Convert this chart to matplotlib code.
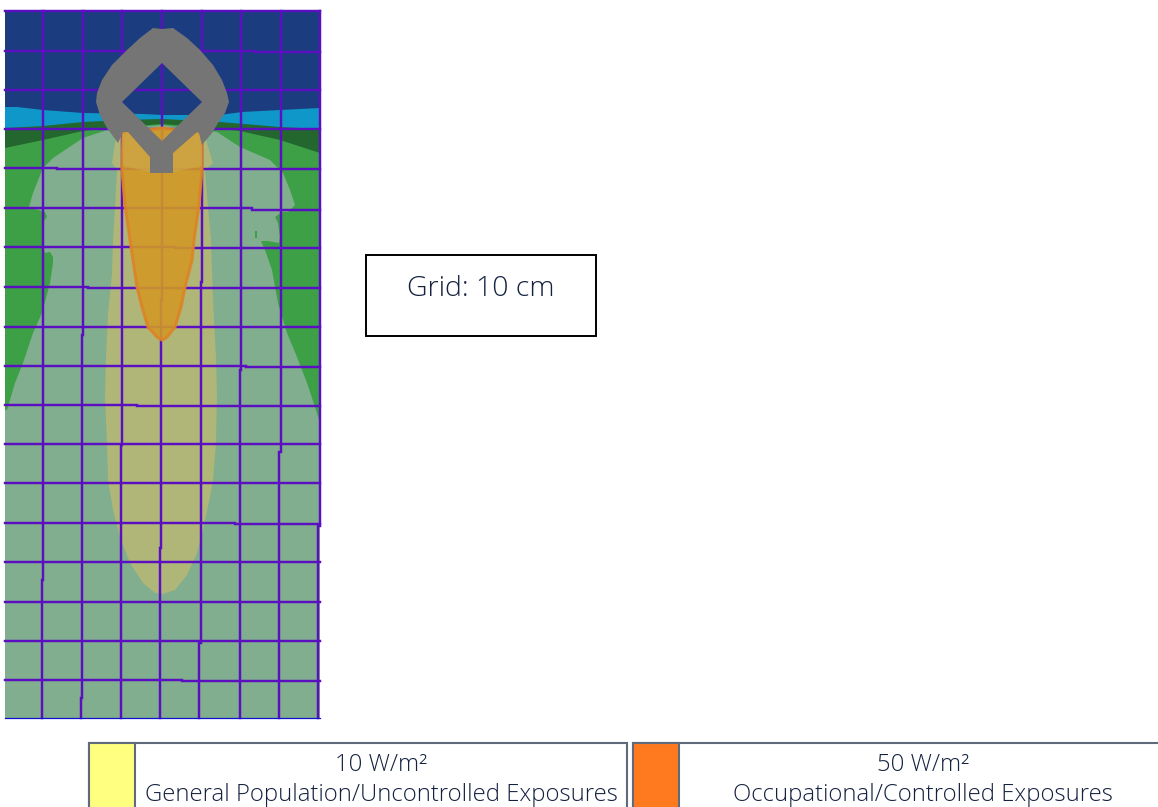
import matplotlib
matplotlib.use('Agg')
import matplotlib.pyplot as plt
from matplotlib.patches import Polygon, PathPatch, Rectangle
from matplotlib.path import Path

plt.rcParams['font.family'] = ['Open Sans', 'Noto Sans', 'DejaVu Sans']

# all values, in image pixels
panel_x = [5, 320]
panel_y = [11, 718]

cyan_top = [(5, 107), (17, 107), (43, 110), (83, 113), (143, 114), (162, 115), (220, 115), (242, 112), (280, 110), (320, 108)]
cyan_bottom = [(5, 128), (43, 126), (83, 122), (123, 120), (162, 119), (220, 122), (280, 127), (320, 129)]
dark_bottom = [(5, 148), (43, 140), (83, 131), (110, 128), (162, 124), (213, 128), (240, 131), (280, 140), (320, 153)]

pale_edge = [(5, 410), (7, 410), (15, 383), (23, 363), (33, 333), (42, 313), (50, 283), (53, 263), (53, 257), (50, 252),
             (45, 253), (42, 245), (43, 222), (47, 217), (45, 212), (29, 207), (33, 193), (43, 168), (53, 158), (65, 150),
             (83, 138), (107, 130), (162, 125), (217, 132), (240, 147), (270, 160), (283, 173), (290, 190), (295, 205),
             (288, 212), (282, 212), (275, 217), (278, 223), (280, 237), (279, 243), (268, 241), (261, 241), (265, 250),
             (272, 270), (278, 303), (287, 333), (297, 357), (307, 383), (315, 407), (319, 420), (320, 424)]
green_speck = [(255, 231), (257, 231), (257, 238), (255, 238)]

yellow_edge = [(118, 130), (115, 143), (112, 163), (117, 170), (115, 207), (113, 240), (112, 273), (108, 313), (106, 357),
               (105, 397), (107, 443), (108, 480), (113, 510), (120, 537), (130, 563), (143, 583), (155, 593), (163, 594),
               (175, 590), (187, 575), (197, 553), (203, 530), (210, 497), (213, 480), (216, 443), (217, 397), (216, 357),
               (213, 300), (211, 240), (208, 207), (205, 170), (213, 163), (207, 143), (205, 130)]

orange_edge = [(123, 133), (122, 170), (125, 205), (130, 240), (133, 260), (137, 287), (142, 307), (148, 327), (157, 337),
               (162, 340), (167, 337), (175, 327), (181, 307), (185, 287), (192, 260), (194, 240), (199, 205), (202, 170),
               (202, 133), (162, 128)]
orange_lobe_left = [(122, 134), (128, 132), (150, 157), (150, 172), (123, 166)]
orange_lobe_right = [(202, 134), (197, 132), (173, 153), (173, 172), (202, 166)]
orange_spots = [[(119, 129), (122, 125), (126, 129), (122, 134)], [(197, 130), (201, 125), (205, 130), (201, 135)]]

antenna_outer = [(153, 28), (162, 29), (173, 28), (187, 38), (200, 50), (213, 65), (222, 80), (227, 93), (229, 102), (225, 113),
                 (218, 123), (212, 133), (202, 145), (199, 133), (197, 132), (173, 153), (173, 173), (150, 173), (150, 157),
                 (128, 132), (123, 132), (118, 143), (107, 128), (100, 115), (96, 102), (97, 93), (102, 80), (112, 65),
                 (127, 50), (140, 38)]
antenna_hole = [(162, 63), (202, 102), (162, 141), (122, 102)]

# each grid line: (start of the run, position of the run)
grid_v = [[(11, 43), (580, 42)],
          [(11, 83), (335, 82), (698, 81)],
          [(11, 122), (445, 121)],
          [(11, 162), (300, 161), (548, 160)],
          [(11, 202), (282, 200.5), (643, 199)],
          [(11, 241), (370, 239.5)],
          [(11, 281), (452, 279)],
          [(11, 320), (526, 318)]]
grid_h = [[(5, 11)],
          [(5, 51), (255, 52)],
          [(5, 90)],
          [(5, 129)],
          [(5, 168), (57, 169)],
          [(5, 208), (252, 209.5)],
          [(5, 247), (175, 248)],
          [(5, 286.5), (88, 288)],
          [(5, 327)],
          [(5, 365.5), (246, 367)],
          [(5, 404.5), (137, 406)],
          [(5, 444)],
          [(5, 483)],
          [(5, 522.5), (235, 524)],
          [(5, 562)],
          [(5, 602)],
          [(5, 641)],
          [(5, 680), (182, 681)]]

legend_labels = ['10 W/m²\nGeneral Population/Uncontrolled Exposures', '50 W/m²\nOccupational/Controlled Exposures']
legend_colors = ['#FFFF80', '#FF7A1F']
legend_left = [89, 633]
legend_right = [627, 1167]

fig = plt.figure(figsize=(11.58, 8.07), dpi=100)
ax = fig.add_axes([0, 0, 1, 1])
ax.set_xlim(0, 1158)
ax.set_ylim(807, 0)
ax.axis('off')

# field layers, painted from the back
x0, x1 = panel_x
y0, y1 = panel_y
ax.add_patch(Rectangle((x0, y0), x1 - x0, y1 - y0, fc='#1B3D80', ec='none', zorder=1))
ax.add_patch(Polygon(cyan_top + [(x1, y1), (x0, y1)], fc='#0F97C9', ec='none', zorder=2))
ax.add_patch(Polygon(cyan_bottom + [(x1, y1), (x0, y1)], fc='#23672F', ec='none', zorder=3))
ax.add_patch(Polygon(dark_bottom + [(x1, y1), (x0, y1)], fc='#3DA047', ec='none', zorder=4))
ax.add_patch(Polygon(pale_edge + [(x1, y1), (x0, y1)], fc='#80AE8E', ec='none', zorder=5))
ax.add_patch(Polygon(green_speck, fc='#3DA047', ec='none', zorder=5))
ax.add_patch(Polygon(yellow_edge, fc='#AFB678', ec='none', zorder=6))

for line in grid_v:
    xs, ys = [], []
    for i, (start, pos) in enumerate(line):
        end = line[i + 1][0] if i + 1 < len(line) else y1
        xs += [pos, pos]
        ys += [start, end]
    ax.plot(xs, ys, color='#5B0FC0', lw=1.75, solid_joinstyle='miter', zorder=7)
for line in grid_h:
    xs, ys = [], []
    for i, (start, pos) in enumerate(line):
        end = line[i + 1][0] if i + 1 < len(line) else x1
        xs += [start, end]
        ys += [pos, pos]
    ax.plot(xs, ys, color='#5B0FC0', lw=1.75, solid_joinstyle='miter', zorder=7)
ax.plot(panel_x, [y1, y1], color='#1010D0', lw=0.9, zorder=7)

# 50 W/m2 region, the grid only just shows through
ax.add_patch(Polygon(orange_edge, fc='#D29826', ec='#DC8426', lw=2.2, alpha=0.9, zorder=8))
ax.add_patch(Polygon(orange_lobe_left, fc='#CDA648', ec='none', alpha=0.7, zorder=8))
ax.add_patch(Polygon(orange_lobe_right, fc='#CDA648', ec='none', alpha=0.7, zorder=8))
for spot in orange_spots:
    ax.add_patch(Polygon(spot, fc='#E0922A', ec='none', zorder=8))

verts = antenna_outer + [antenna_outer[0]] + antenna_hole[::-1] + [antenna_hole[-1]]
codes = [Path.MOVETO] + [Path.LINETO] * (len(antenna_outer) - 1) + [Path.CLOSEPOLY]
codes += [Path.MOVETO] + [Path.LINETO] * (len(antenna_hole) - 1) + [Path.CLOSEPOLY]
ax.add_patch(PathPatch(Path(verts, codes), fc='#757575', ec='none', zorder=9))

# grid note
ax.add_patch(Rectangle((366, 255), 230, 81, fc='white', ec='black', lw=1.4, zorder=10))
ax.text(481, 286, 'Grid: 10 cm', ha='center', va='center_baseline', fontsize=20.5, fontweight='light', color='#14213F', zorder=11)

# legend, runs off the bottom of the picture
for i in range(2):
    ax.add_patch(Rectangle((legend_left[i], 743), legend_right[i] - legend_left[i], 80, fc='white', ec='#5F6B7A', lw=1.5, zorder=10))
    ax.add_patch(Rectangle((legend_left[i], 743), 46, 80, fc=legend_colors[i], ec='#5F6B7A', lw=1.5, zorder=11))
    cx = (legend_left[i] + 46 + legend_right[i]) / 2
    first, second = legend_labels[i].split('\n')
    ax.text(cx, 762, first, ha='center', va='center_baseline', fontsize=17.2, fontweight='light', color='#14213F', zorder=12)
    ax.text(cx, 792, second, ha='center', va='center_baseline', fontsize=17.2, fontweight='light', color='#14213F', zorder=12)

fig.savefig('out.png', dpi=100)
